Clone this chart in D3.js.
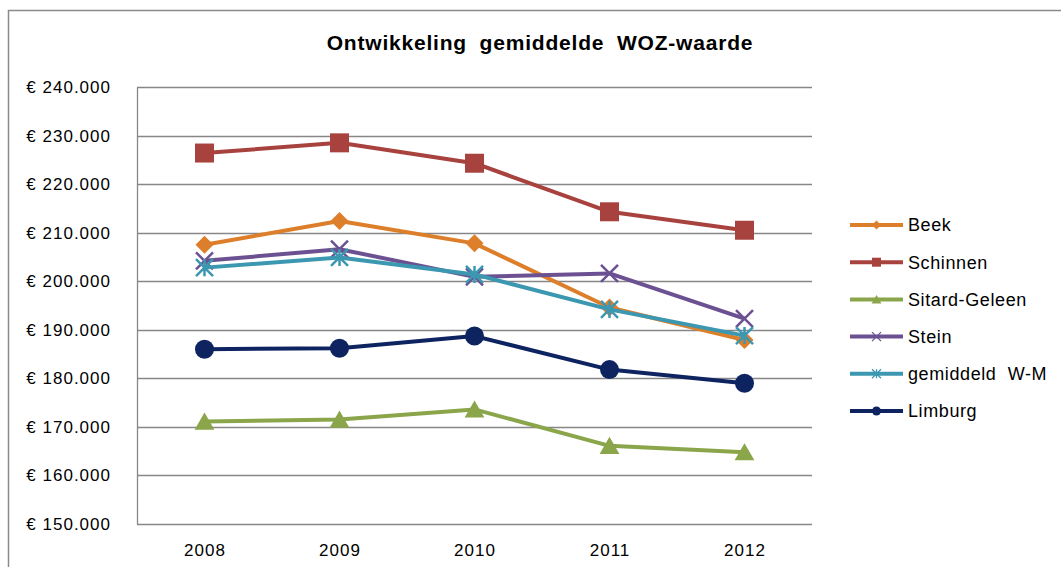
<!DOCTYPE html>
<html>
<head>
<meta charset="utf-8">
<script src="https://cdn.jsdelivr.net/npm/d3@7"></script>
<style>
  body { margin: 0; background: #fff; }
  text { font-family: "Liberation Sans", Arial, sans-serif; fill: #000; white-space: pre; }
</style>
</head>
<body>
<svg id="chart" width="1061" height="567"></svg>
<script>
// data
var years = ["2008", "2009", "2010", "2011", "2012"];
var beek     = [207500, 212400, 207800, 194600, 187900];
var schinnen = [226400, 228500, 224300, 214300, 210500];
var sittard  = [171100, 171500, 173600, 166100, 164800];
var stein    = [204200, 206600, 200900, 201600, 192300];
var gemWM    = [202800, 204900, 201400, 194200, 188800];
var limburg  = [186000, 186200, 188700, 181800, 179000];
var seriesNames = ["Beek", "Schinnen", "Sitard-Geleen", "Stein", "gemiddeld  W-M", "Limburg"];
var yTicks = [150000, 160000, 170000, 180000, 190000, 200000, 210000, 220000, 230000, 240000];

var colors = ["#dd7f2a", "#a8423f", "#8aa54a", "#6c5192", "#3c97b1", "#0d2461"];
var markers = ["diamond", "square", "triangle", "x", "star", "circle"];
var allValues = [beek, schinnen, sittard, stein, gemWM, limburg];

var svg = d3.select("#chart");

// chart frame
svg.append("rect")
  .attr("x", 8.5).attr("y", 10.5)
  .attr("width", 1100).attr("height", 600)
  .attr("fill", "none")
  .attr("stroke", "#8a8a8a")
  .attr("stroke-width", 1.5);

var plot = {left: 137, right: 812, top: 87, bottom: 524};

var x = d3.scalePoint()
  .domain(years)
  .range([plot.left, plot.right])
  .padding(0.5);

var y = d3.scaleLinear()
  .domain([150000, 240000])
  .range([plot.bottom, plot.top]);

// title
svg.append("text")
  .attr("x", 540).attr("y", 50)
  .attr("text-anchor", "middle")
  .style("font-size", "21px")
  .style("font-weight", "bold")
  .style("letter-spacing", "0.8px")
  .style("word-spacing", "6px")
  .text("Ontwikkeling gemiddelde WOZ-waarde");

// gridlines
svg.append("g")
  .selectAll("line")
  .data(yTicks)
  .enter().append("line")
    .attr("x1", plot.left).attr("x2", plot.right)
    .attr("y1", function(d) { return Math.round(y(d)) + 0.5; })
    .attr("y2", function(d) { return Math.round(y(d)) + 0.5; })
    .attr("stroke", "#878787")
    .attr("stroke-width", 1.3);

// y axis
var fmt = function(d) { return "€ " + d3.format(",")(d).replace(/,/g, "."); };
var yAxis = svg.append("g")
  .attr("transform", "translate(" + plot.left + ",0)")
  .call(d3.axisLeft(y).tickValues(yTicks).tickFormat(fmt).tickSize(0).tickPadding(26));
yAxis.select(".domain").attr("stroke", "#878787").attr("stroke-width", 1.3);
yAxis.selectAll("text")
  .style("font-size", "17px")
  .style("letter-spacing", "1px")
  .attr("fill", "#000");

// x axis
var xAxis = svg.append("g")
  .attr("transform", "translate(0," + plot.bottom + ")")
  .call(d3.axisBottom(x).tickSize(0).tickPadding(20));
xAxis.select(".domain").remove();
xAxis.selectAll("text")
  .style("font-size", "17px")
  .style("letter-spacing", "1px")
  .attr("fill", "#000");

// marker shapes
function markerPath(type, s) {
  var h = s / 2;
  if (type == "diamond") return "M0," + (-h) + "L" + h + ",0L0," + h + "L" + (-h) + ",0Z";
  if (type == "square") return "M" + (-h) + "," + (-h) + "h" + s + "v" + s + "h" + (-s) + "Z";
  if (type == "triangle") return "M0," + (-h) + "L" + (h * 1.1) + "," + (h * 0.9) + "L" + (-h * 1.1) + "," + (h * 0.9) + "Z";
  if (type == "circle") return d3.symbol().type(d3.symbolCircle).size(Math.PI * h * h)();
  if (type == "x") return "M" + (-h) + "," + (-h) + "L" + h + "," + h + "M" + h + "," + (-h) + "L" + (-h) + "," + h;
  if (type == "star") return "M" + (-h) + "," + (-h) + "L" + h + "," + h + "M" + h + "," + (-h) + "L" + (-h) + "," + h +
    "M0," + (-h) + "L0," + h;
}
function drawMarker(g, type, color, s, sw) {
  var p = g.append("path").attr("d", markerPath(type, s));
  if (type == "x" || type == "star") {
    p.attr("fill", "none").attr("stroke", color).attr("stroke-width", sw);
  } else {
    p.attr("fill", color);
  }
}

var line = d3.line()
  .x(function(d, i) { return x(years[i]); })
  .y(function(d) { return y(d); });

var markerSize = [18, 19, 18, 17, 17, 19];

allValues.forEach(function(vals, k) {
  var g = svg.append("g");
  g.append("path")
    .datum(vals)
    .attr("d", line)
    .attr("fill", "none")
    .attr("stroke", colors[k])
    .attr("stroke-width", 4)
    .attr("stroke-linejoin", "round");
  vals.forEach(function(v, i) {
    var m = g.append("g").attr("transform", "translate(" + x(years[i]) + "," + y(v) + ")");
    drawMarker(m, markers[k], colors[k], markerSize[k], 2.5);
  });
});

// legend
var legend = svg.selectAll(".legend")
  .data(seriesNames)
  .enter().append("g")
    .attr("class", "legend")
    .attr("transform", function(d, i) { return "translate(850," + (225 + i * 37.2) + ")"; });

legend.append("line")
  .attr("x1", 0).attr("x2", 53)
  .attr("stroke", function(d, i) { return colors[i]; })
  .attr("stroke-width", 4);

legend.each(function(d, i) {
  var m = d3.select(this).append("g").attr("transform", "translate(26.5,0)");
  drawMarker(m, markers[i], colors[i], 9, 1.3);
});

legend.append("text")
  .attr("x", 58)
  .attr("y", 0)
  .attr("dy", "0.35em")
  .style("font-size", "18px")
  .style("letter-spacing", "0.6px")
  .text(function(d) { return d; });
</script>
</body>
</html>
